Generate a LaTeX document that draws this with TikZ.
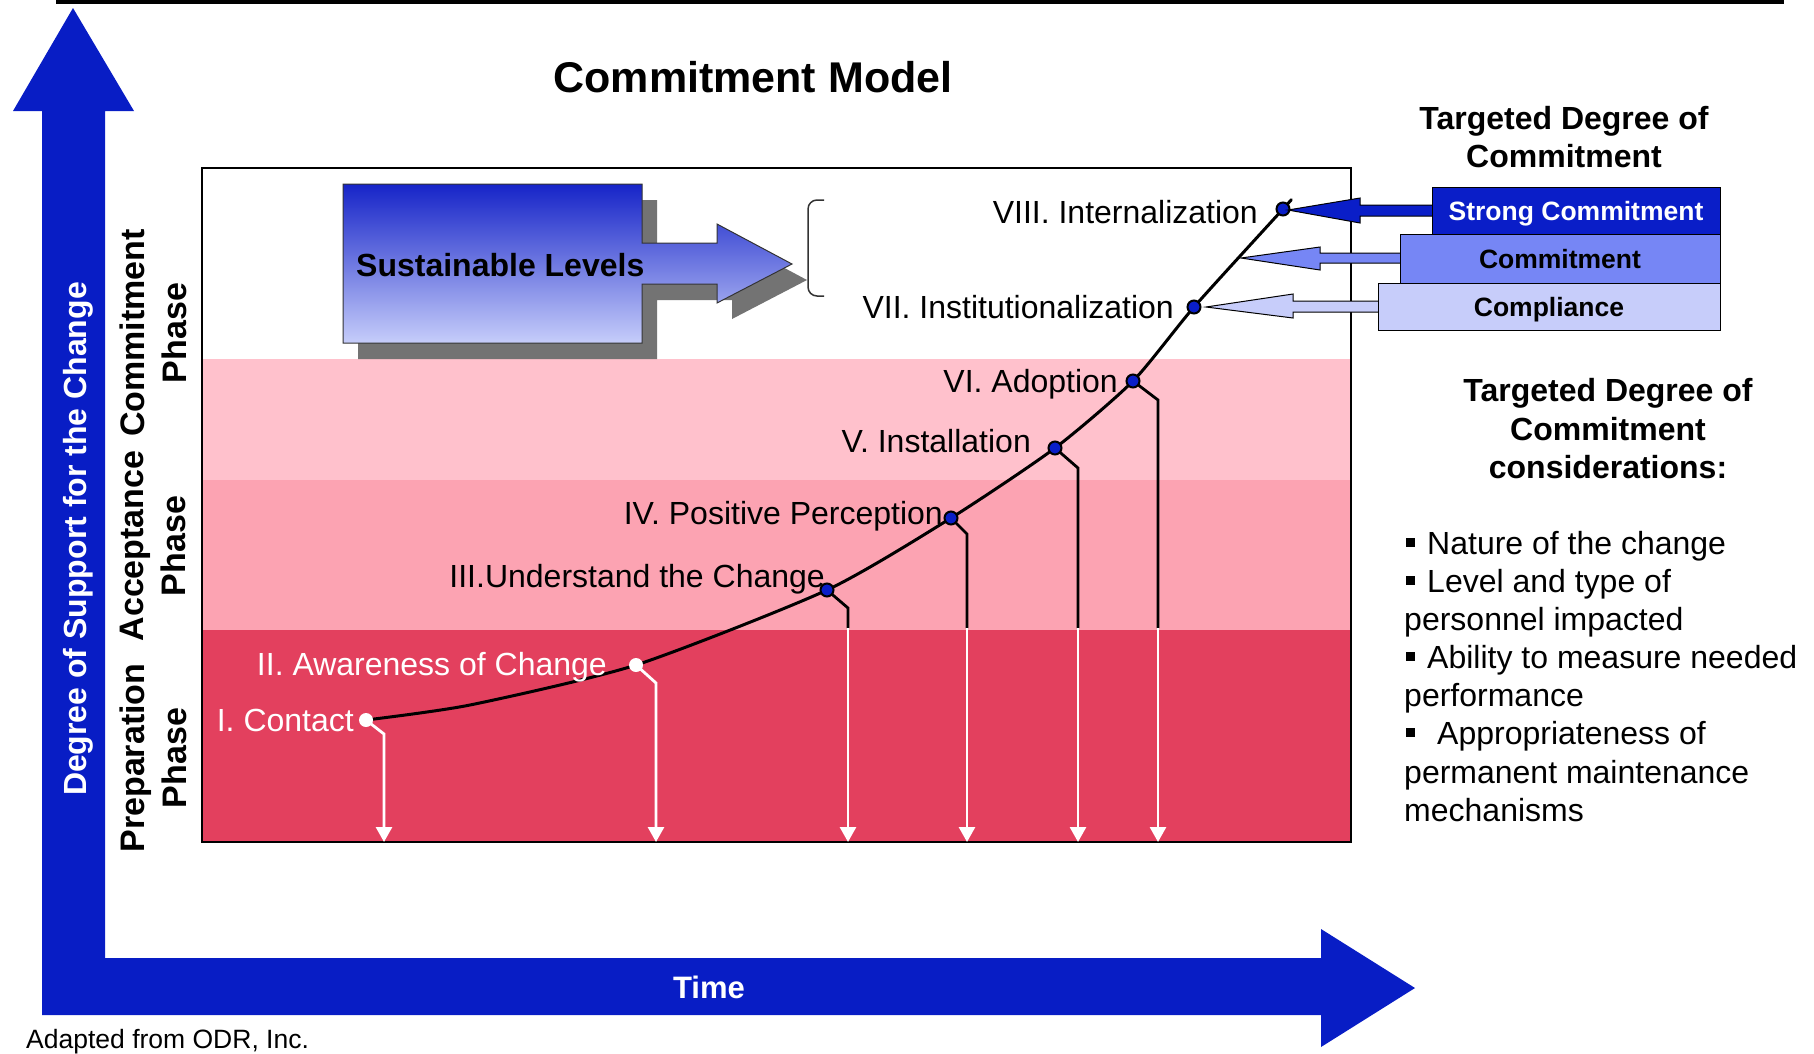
\documentclass[tikz,border=0pt]{standalone}
\usepackage{fontspec}
\setmainfont{Liberation Sans}
\usetikzlibrary{arrows.meta}

\definecolor{axisblue}{RGB}{8,29,197}
\definecolor{dotblue}{RGB}{10,30,200}
\definecolor{midblue}{RGB}{118,134,245}
\definecolor{paleblue}{RGB}{199,205,250}
\definecolor{gradtop}{RGB}{22,36,200}
\definecolor{gradbot}{RGB}{198,205,250}
\definecolor{pinkA}{RGB}{255,193,204}
\definecolor{pinkB}{RGB}{252,163,178}
\definecolor{pinkC}{RGB}{227,64,94}
\definecolor{shadowgray}{RGB}{115,115,115}

\newcommand\fsz[2]{\fontsize{#1pt}{#2pt}\selectfont}
\newcommand\bul{\hspace*{2pt}\rule[7pt]{9pt}{9pt}\hspace*{12pt}}
\newcommand\bulwide{\hspace*{2pt}\rule[7pt]{9pt}{9pt}\hspace*{22pt}}

\tikzset{
  stagelbl/.style={font=\fsz{32}{38}, inner sep=0pt, anchor=base east},
  dotw/.style={circle, fill=white, inner sep=0pt, minimum size=14pt},
  dotb/.style={circle, fill=dotblue, draw=black, line width=2pt, inner sep=0pt, minimum size=13pt},
  leadb/.style={line width=2.8pt, black},
  leadw/.style={line width=2.8pt, white, -{Triangle[width=16pt,length=15pt]}},
  phase/.style={font=\bfseries\fsz{34}{42}, align=center, rotate=90, inner sep=0pt},
  lvlbox/.style={draw=black, line width=1pt, inner sep=0pt, font=\bfseries\fsz{26.5}{30},
    text height=19pt, text depth=0pt},
  lvlarrow/.style={draw=black, line width=1pt},
  heading/.style={font=\bfseries\fsz{32}{38}, inner sep=0pt, anchor=base},
  body/.style={font=\fsz{32}{38}, inner sep=0pt, anchor=base west},
}

\begin{document}
\begin{tikzpicture}[x=1pt,y=-1pt]
\useasboundingbox (0,0) rectangle (1814,1053);

% rule along the top edge
\fill[black] (56,0) rectangle (1784,4.3);

% L-shaped axis arrows
\fill[axisblue] (73,8) -- (134,111) -- (105,111) -- (105,958) -- (1321,958)
  -- (1321,929) -- (1415,988) -- (1321,1047) -- (1321,1015) -- (42,1015)
  -- (42,111) -- (13,111) -- cycle;

% phase bands inside the frame
\fill[pinkA] (202,359) rectangle (1351,480);
\fill[pinkB] (202,480) rectangle (1351,630);
\fill[pinkC] (202,630) rectangle (1351,842);
\draw[line width=2.5pt] (202,168) rectangle (1351,842);

% "Sustainable Levels" block arrow with shadow
\fill[shadowgray] (358,200) -- (657,200) -- (657,259) -- (732,259) -- (732,240)
  -- (807,280) -- (732,319) -- (732,300) -- (657,300) -- (657,359) -- (358,359) -- cycle;
\shade[top color=gradtop, bottom color=gradbot, draw=black!80, line width=1pt]
  (343,184) -- (642,184) -- (642,243) -- (717,243) -- (717,224) -- (792,264)
  -- (717,303) -- (717,284) -- (642,284) -- (642,343) -- (343,343) -- cycle;
\node[font=\bfseries\fsz{32}{38}, inner sep=0pt, anchor=west] (sust) at (356,265) {Sustainable Levels};
\draw[line width=1.5pt, black!80, rounded corners=9pt] (824,200) -| (808,296) -- (824,296);

% stage positions
\coordinate (p1) at (366,720);
\coordinate (p2) at (636,665);
\coordinate (p3) at (827,590);
\coordinate (p4) at (951,518);
\coordinate (p5) at (1055,448);
\coordinate (p6) at (1133,381);
\coordinate (p7) at (1194,307);
\coordinate (p8) at (1283,209);

% commitment curve
\draw[line width=3pt, line join=round] plot[smooth, tension=0.4] coordinates {
  (p1) (470,705) (p2) (p3) (p4) (p5) (p6) (p7) (p8) (1291,200)};

% leaders from each stage down to the time axis
\coordinate (k1) at (384,734);  \coordinate (e1) at (384,842);
\coordinate (k2) at (656,683);  \coordinate (e2) at (656,842);
\coordinate (k3) at (848,608);  \coordinate (m3) at (848,628); \coordinate (e3) at (848,842);
\coordinate (k4) at (967,534);  \coordinate (m4) at (967,628); \coordinate (e4) at (967,842);
\coordinate (k5) at (1078,468); \coordinate (m5) at (1078,628); \coordinate (e5) at (1078,842);
\coordinate (k6) at (1158,400); \coordinate (m6) at (1158,628); \coordinate (e6) at (1158,842);

\draw[leadw] (p1) -- (k1) -- (e1);
\draw[leadw] (p2) -- (k2) -- (e2);
\foreach \i in {3,4,5,6}{
  \draw[leadb] (p\i) -- (k\i) -- (m\i);
  \draw[leadw] (m\i) -- (e\i);
}

% stage markers
\node[dotw] (d1) at (p1) {};
\node[dotw] (d2) at (p2) {};
\node[dotb] (d3) at (p3) {};
\node[dotb] (d4) at (p4) {};
\node[dotb] (d5) at (p5) {};
\node[dotb] (d6) at (p6) {};
\node[dotb] (d7) at (p7) {};
\node[dotb] (d8) at (p8) {};

% stage labels
\node[stagelbl, text=white] (l1) at (354,731) {I. Contact};
\node[stagelbl, text=white] (l2) at (607,675) {II. Awareness of Change};
\node[stagelbl] (l3) at (825,587) {III.Understand the Change};
\node[stagelbl] (l4) at (943,524) {IV. Positive Perception};
\node[stagelbl] (l5) at (1031,452) {V. Installation};
\node[stagelbl] (l6) at (1118,392) {VI. Adoption};
\node[stagelbl] (l7) at (1174,318) {VII. Institutionalization};
\node[stagelbl] (l8) at (1258,223) {VIII. Internalization};

% targeted degree arrows and boxes
\filldraw[lvlarrow, fill=dotblue] (1432,205) -- (1360,205) -- (1360,198) -- (1288,210)
  -- (1360,223) -- (1360,216) -- (1432,216);
\filldraw[lvlarrow, fill=midblue] (1400,253) -- (1320,253) -- (1320,247) -- (1241,258)
  -- (1320,270) -- (1320,263) -- (1400,263);
\filldraw[lvlarrow, fill=paleblue] (1378,301) -- (1293,301) -- (1293,294) -- (1206,307)
  -- (1293,318) -- (1293,312) -- (1378,312);

\node[lvlbox, fill=dotblue, text=white, minimum width=288pt, minimum height=47pt] (strong) at (1576,210.5) {Strong Commitment};
\node[lvlbox, fill=midblue, minimum width=320pt, minimum height=49pt] (commit) at (1560,258.5) {Commitment};
\node[lvlbox, fill=paleblue, minimum width=342pt, minimum height=47pt] (compl) at (1549,306.5) {Compliance};

% headings
\node[font=\bfseries\fsz{43}{50}, inner sep=0pt] (title) at (753,77) {Commitment Model};
\node[heading] (tg1) at (1564,129) {Targeted Degree of};
\node[heading] (tg2) at (1564,167) {Commitment};
\node[heading] (cs1) at (1608,401) {Targeted Degree of};
\node[heading] (cs2) at (1608,440) {Commitment};
\node[heading] (cs3) at (1608,478) {considerations:};

% considerations list
\node[body] (b1) at (1404,554) {\bul Nature of the change};
\node[body] (b2) at (1404,592) {\bul Level and type of};
\node[body] (b3) at (1404,630) {personnel impacted};
\node[body] (b4) at (1404,668) {\bul Ability to measure needed};
\node[body] (b5) at (1404,706) {performance};
\node[body] (b6) at (1404,744) {\bulwide Appropriateness of};
\node[body] (b7) at (1404,783) {permanent maintenance};
\node[body] (b8) at (1404,821) {mechanisms};

% axis and phase labels
\node[font=\bfseries\fsz{32}{38}, text=white, rotate=90, inner sep=0pt] (ylab) at (78,539) {Degree of Support for the Change};
\node[phase] (phc) at (153,333) {Commitment\\Phase};
\node[phase] (pha) at (153,546) {Acceptance\\Phase};
\node[phase] (php) at (153,758) {Preparation\\Phase};
\node[font=\bfseries\fsz{31}{37}, text=white, inner sep=0pt] (xlab) at (709,987) {Time};

\node[font=\fsz{26.5}{31}, inner sep=0pt, anchor=base west] (src) at (26,1048) {Adapted from ODR, Inc.};
\end{tikzpicture}
\end{document}
